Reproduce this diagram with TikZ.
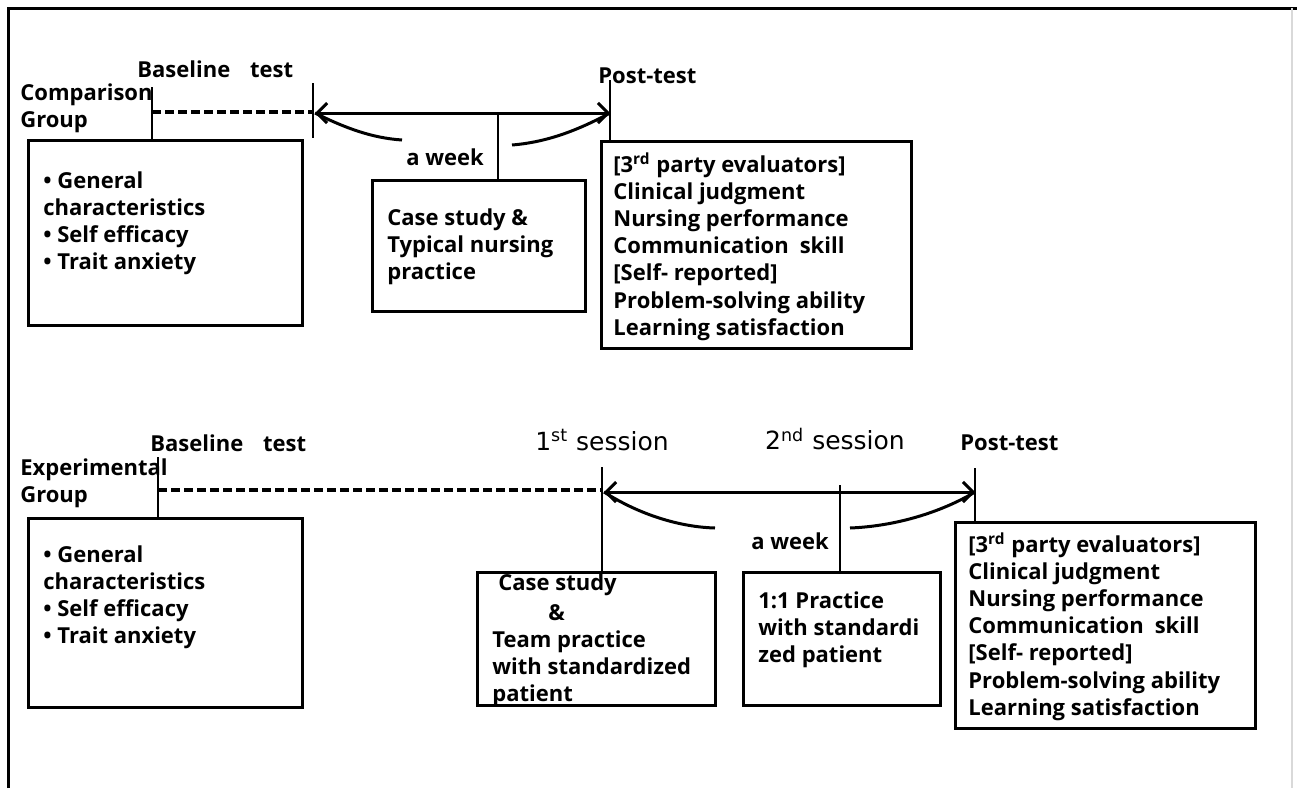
\documentclass[tikz,border=0pt]{standalone}
\usepackage{fontspec}
\setmainfont{Open Sans}
\newfontfamily\sessfont{DejaVu Sans}
\usetikzlibrary{arrows.meta,fit}
\begin{document}
\begin{tikzpicture}[x=0.5pt,y=-0.5pt,
  lbl/.style={font=\bfseries\fontsize{11}{13.6}\selectfont, inner sep=0pt, align=left},
  boxx/.style={draw, line width=1.5pt, inner sep=0pt},
  tick/.style={line width=1pt},
  dashline/.style={line width=1.6pt, dash pattern=on 4.5pt off 2pt},
  timeline/.style={line width=1.5pt, {Straight Barb[length=5pt,width=10pt,line width=1.5pt]}-{Straight Barb[length=5pt,width=10pt,line width=1.5pt]}},
  curveline/.style={line width=1.5pt},
  sess/.style={font=\sessfont\fontsize{12.5}{15}\selectfont, inner sep=0pt},
  frame/.style={line width=1.5pt}
]
\fill[white] (0,0) rectangle (1297,788);
\useasboundingbox (0,0) rectangle (1297,788);
\draw[frame] (8,788) -- (8,8) -- (1297,8);
\draw[gray!30, line width=0.8pt] (1292,8) -- (1292,788);

% ---------- Comparison group ----------
\node[lbl, anchor=north west] (cg) at (20,83) {Comparison\\Group};
\node[lbl, anchor=west] (cbase) at (137,69) {Baseline\hspace{0.9em}test};
\node[boxx, fit={(28,140) (302,325)}] (cbox) {};
\coordinate (cbt) at (152,87);
\draw[tick] (cbt) -- (cbt |- cbox.north);
\coordinate (cd0) at (152,112);
\coordinate (cd1) at (313,112);
\draw[dashline] (cd0) -- (cd1);
\coordinate (ct1a) at (313,83);
\coordinate (ct1b) at (313,138);
\draw[tick] (ct1a) -- (ct1b);
\coordinate (cal) at (315,113);
\coordinate (car) at (610,113);
\draw[timeline] (cal) -- (car);
\node[lbl, anchor=west] (cpostlbl) at (598,76) {Post-test};
\node[boxx, fit={(601,141) (911,348)}] (cpost) {};
\coordinate (cpt) at (610,80);
\draw[tick] (cpt) -- (cpt |- cpost.north);
\node[boxx, fit={(372,180) (585,311)}] (cmid) {};
\coordinate (cmt) at (498,113);
\draw[tick] (cmt) -- (cmt |- cmid.north);
\node[lbl] (cweek) at (445,157) {a week};
\coordinate (cwl) at (402,140);
\coordinate (cwr) at (512,145);
\draw[curveline] (cal) .. controls (345,128) and (372,138) .. (cwl);
\draw[curveline] (cwr) .. controls (550,142) and (582,128) .. (car);

\node[lbl, anchor=north west] (ctext) at (43,171) {• General\\characteristics\\• Self efficacy\\• Trait anxiety};
\node[lbl, anchor=north west] (cmidtext) at (387,208) {Case study \&\\Typical nursing\\practice};
\node[lbl, anchor=north west] (cposttext) at (613,152) {{[}3\textsuperscript{rd} party evaluators{]}\\Clinical judgment\\Nursing performance\\Communication\hspace{0.5em}skill\\{[}Self- reported{]}\\Problem-solving ability\\Learning satisfaction};

% ---------- Experimental group ----------
\node[lbl, anchor=north west] (eg) at (20,458) {Experimental\\Group};
\node[lbl, anchor=west] (ebase) at (150,443) {Baseline\hspace{0.9em}test};
\node[boxx, fit={(28,518) (302,707)}] (ebox) {};
\coordinate (ebt) at (158,457);
\draw[tick] (ebt) -- (ebt |- ebox.north);
\coordinate (ed0) at (158,490);
\coordinate (ed1) at (602,490);
\draw[dashline] (ed0) -- (ed1);

\node[sess] (s1) at (602,440) {1\textsuperscript{st} session};
\node[boxx, fit={(477,572) (715,705)}] (eb1) {};
\coordinate (s1t) at (602,467);
\draw[tick] (s1t) -- (s1t |- eb1.north);
\coordinate (eal) at (604,492);
\coordinate (ear) at (975,492);
\draw[timeline] (eal) -- (ear);
\node[sess] (s2) at (835,439) {2\textsuperscript{nd} session};
\node[boxx, fit={(743,572) (940,705)}] (eb2) {};
\coordinate (s2t) at (840,485);
\draw[tick] (s2t) -- (s2t |- eb2.north);
\node[lbl, anchor=west] (epostlbl) at (960,443) {Post-test};
\node[boxx, fit={(955,522) (1255,728)}] (epost) {};
\coordinate (ept) at (975,468);
\draw[tick] (ept) -- (ept |- epost.north);
\node[lbl] (eweek) at (790,541) {a week};
\coordinate (ewl) at (715,528);
\coordinate (ewr) at (850,528);
\draw[curveline] (eal) .. controls (640,515) and (680,527) .. (ewl);
\draw[curveline] (ewr) .. controls (900,526) and (945,510) .. (ear);

\node[lbl, anchor=north west] (etext) at (43,545) {• General\\characteristics\\• Self efficacy\\• Trait anxiety};
\node[lbl, anchor=west] (b1a) at (498,585) {Case study};
\node[lbl, anchor=west] (b1b) at (548,613) {\&};
\node[lbl, anchor=north west] (b1c) at (492,630) {Team practice\\with standardized\\patient};
\node[lbl, anchor=north west] (b2t) at (758,591) {1:1 Practice\\with standardi\\zed patient};
\node[lbl, anchor=north west] (eposttext) at (968,532) {{[}3\textsuperscript{rd} party evaluators{]}\\Clinical judgment\\Nursing performance\\Communication\hspace{0.5em}skill\\{[}Self- reported{]}\\Problem-solving ability\\Learning satisfaction};
\end{tikzpicture}
\end{document}
